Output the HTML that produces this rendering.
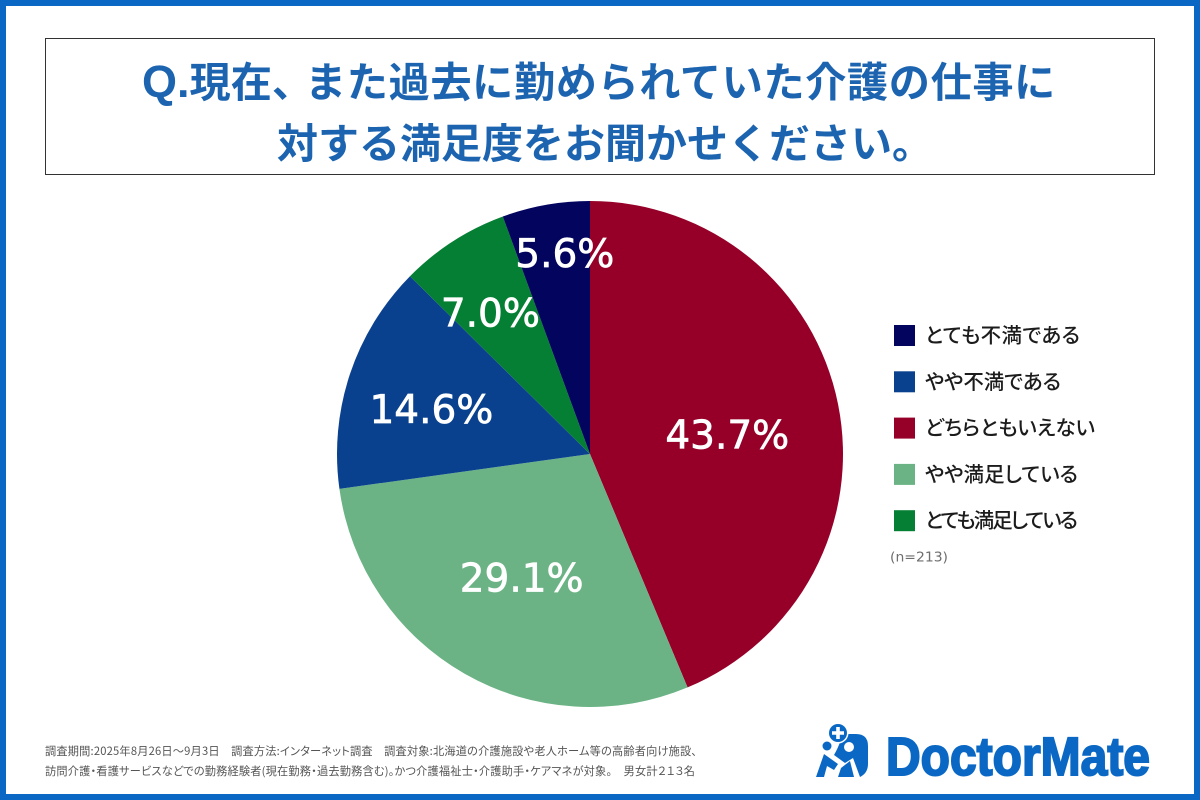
<!DOCTYPE html>
<html lang="ja">
<head>
<meta charset="utf-8">
<title>介護の仕事に対する満足度</title>
<style>
html,body{margin:0;padding:0;background:#fff;}
svg{display:block;}
.jp{font-family:"Liberation Sans","Noto Sans CJK JP",sans-serif;}
.note{font-family:"Noto Sans CJK JP",sans-serif;font-feature-settings:"palt";}
</style>
</head>
<body>
<svg id="chart" xmlns="http://www.w3.org/2000/svg" width="1200" height="800" viewBox="0 0 1200 800">
  <rect width="1200" height="800" fill="#ffffff"/>
  <rect x="3" y="3" width="1194" height="794" fill="none" stroke="#0a68c4" stroke-width="6"/>
  <rect x="45.5" y="38.5" width="1109" height="136" fill="#fff" stroke="#333" stroke-width="1"/>
  <text class="jp" x="142" y="97" font-size="41.2" font-weight="700" fill="#1c64b0"><tspan font-size="45">Q.</tspan>現在、<tspan x="305" letter-spacing="0.6">また過去に勤められていた介護の仕事に</tspan></text>
  <text class="jp" x="277" y="158" font-size="41" font-weight="700" fill="#1c64b0">対する満足度をお聞かせください。</text>
  <g id="pie"></g>
  <g id="legend"></g>
  <text x="890" y="561.5" font-family="'DejaVu Sans',sans-serif" font-size="13" fill="#6e6e6e" textLength="58" lengthAdjust="spacingAndGlyphs">(n=213)</text>
  <text class="note" x="45" y="755" font-size="11.2" fill="#555" textLength="652" lengthAdjust="spacing">調査期間:2025年8月26日～9月3日　調査方法:インターネット調査　調査対象:北海道の介護施設や老人ホーム等の高齢者向け施設、</text>
  <text class="note" x="45" y="775" font-size="11.2" fill="#555" textLength="650" lengthAdjust="spacing">訪問介護・看護サービスなどでの勤務経験者(現在勤務・過去勤務含む)。かつ介護福祉士・介護助手・ケアマネが対象。　男女計２１３名</text>
  <g>
    <g fill="#0a68c4">
      <path d="M842 734 H856 Q868 734 868 746 V764 Q868 773 860 777 L853 758 L845 763 L834 755 Q838 748 840 742 Z"/>
      <circle cx="838" cy="733" r="10.5" fill="#fff"/>
      <circle cx="838" cy="733" r="9"/>
      <path d="M836.2 727 h3.6 v4.2 h4.2 v3.6 h-4.2 v4.2 h-3.6 v-4.2 h-4.2 v-3.6 h4.2 z" fill="#fff"/>
      <circle cx="849" cy="747" r="5" fill="#fff"/>
      <circle cx="827" cy="746" r="4.5"/>
      <path d="M816 777 L824 754 L838 764 L834 770 L827 766 L824 777 Z"/>
      <path d="M838 777 L841 768 L850 761 L854 777 Z"/>
    </g>
    <text x="886" y="775" font-family="'Liberation Sans',sans-serif" font-weight="700" font-size="54" fill="#0a68c4" stroke="#0a68c4" stroke-width="2" textLength="264" lengthAdjust="spacingAndGlyphs">DoctorMate</text>
  </g>
</svg>
<script>
const categories = ["とても不満である", "やや不満である", "どちらともいえない", "やや満足している", "とても満足している"];
const seriesValues = [5.6, 14.6, 43.7, 29.1, 7.0];
const valueLabels = ["5.6%", "14.6%", "43.7%", "29.1%", "7.0%"];
const sliceOrder = [2, 3, 1, 4, 0];
const sliceColors = ["#03045e", "#0a418f", "#960028", "#6bb385", "#057f33"];
const labelRadius = [201, 165, 140, 142, 173];
const labelNudgeX = [10, -2, 0, 2, -6];
const labelNudgeY = [-3, 7, 8, 0, 4];
const legendTextWidth = [155, 136, 170, 153, 153];

const NS = "http://www.w3.org/2000/svg";
const cx = 590, cy = 454, R = 253;
const total = seriesValues.reduce((a, b) => a + b, 0);
const angleOf = v => v / total * 2 * Math.PI;
const polarX = (a, r) => cx + r * Math.sin(a);
const polarY = (a, r) => cy - r * Math.cos(a);

const pie = document.getElementById("pie");
let cumulative = 0;
const labels = [];
sliceOrder.forEach(i => {
  const a0 = angleOf(cumulative);
  cumulative += seriesValues[i];
  const a1 = angleOf(cumulative);
  const large = a1 - a0 > Math.PI ? 1 : 0;
  const path = document.createElementNS(NS, "path");
  path.setAttribute("d", "M" + cx + " " + cy + " L" + polarX(a0, R) + " " + polarY(a0, R) + " A" + R + " " + R + " 0 " + large + " 1 " + polarX(a1, R) + " " + polarY(a1, R) + " Z");
  path.setAttribute("fill", sliceColors[i]);
  
  
  pie.appendChild(path);
  labels.push({ i: i, mid: (a0 + a1) / 2 });
});
labels.forEach(o => {
  const t = document.createElementNS(NS, "text");
  t.setAttribute("x", polarX(o.mid, labelRadius[o.i]) + labelNudgeX[o.i]);
  t.setAttribute("y", polarY(o.mid, labelRadius[o.i]) + 14 + labelNudgeY[o.i]);
  t.setAttribute("text-anchor", "middle");
  t.setAttribute("font-family", "'DejaVu Sans',sans-serif");
  t.setAttribute("font-size", "39");
  t.setAttribute("fill", "#ffffff");
  t.setAttribute("stroke", "#ffffff");
  t.setAttribute("stroke-width", "0.7");
  
  
  t.textContent = valueLabels[o.i];
  pie.appendChild(t);
});

const legend = document.getElementById("legend");
categories.forEach((name, i) => {
  const y = 325 + i * 46.3;
  const sw = document.createElementNS(NS, "rect");
  sw.setAttribute("x", 894);
  sw.setAttribute("y", y);
  sw.setAttribute("width", 21);
  sw.setAttribute("height", 21);
  sw.setAttribute("fill", sliceColors[i]);
  
  
  legend.appendChild(sw);
  const t = document.createElementNS(NS, "text");
  t.setAttribute("x", 925);
  t.setAttribute("y", y + 17.5);
  t.setAttribute("font-family", "'Noto Sans CJK JP',sans-serif");
  t.setAttribute("font-size", "20.5");
  t.setAttribute("font-weight", "500");
  t.setAttribute("style", "font-feature-settings:'palt'");
  t.setAttribute("textLength", legendTextWidth[i]);
  t.setAttribute("lengthAdjust", "spacing");
  t.setAttribute("fill", "#1c1c1c");
  
  
  t.textContent = name;
  legend.appendChild(t);
});
</script>
</body>
</html>
